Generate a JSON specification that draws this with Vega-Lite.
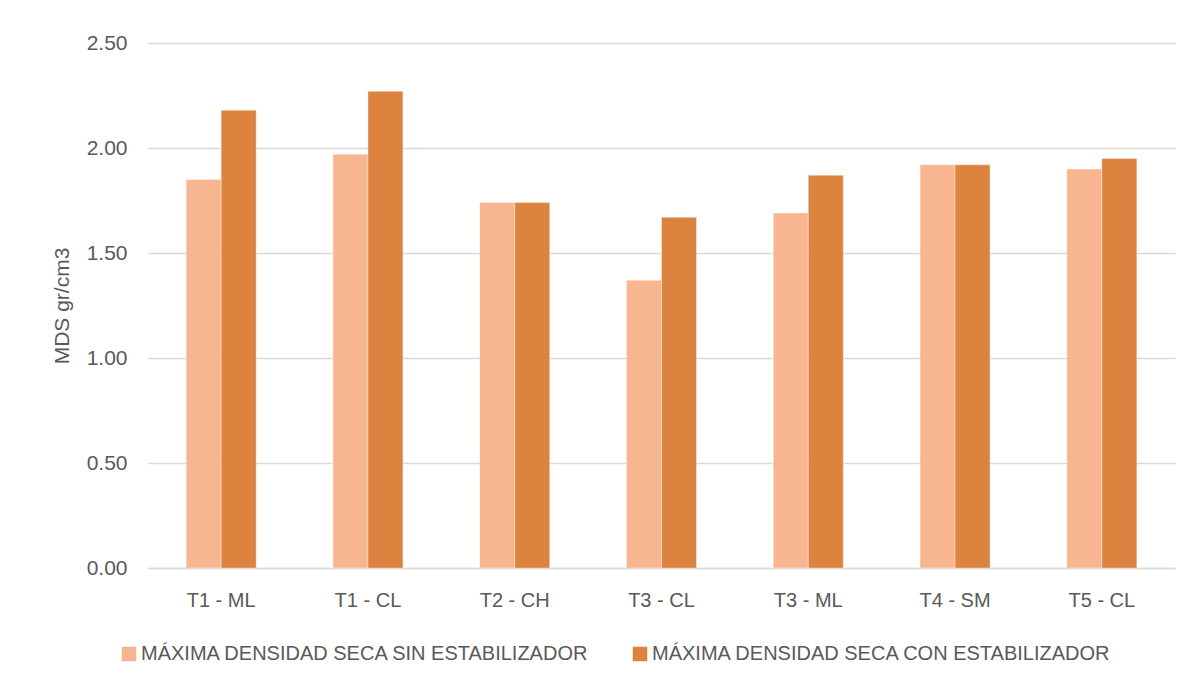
{
  "$schema": "https://vega.github.io/schema/vega-lite/v6.json",
  "autosize": {"type": "none"},
  "width": 1027,
  "height": 525,
  "padding": {"left": 148, "top": 43, "right": 17, "bottom": 115},
  "background": "white",
  "config": {
    "font": "Liberation Sans, sans-serif",
    "view": {"stroke": null}
  },
  "data": {
    "values": [
      {"muestra": "T1 - ML", "serie": "MÁXIMA DENSIDAD SECA SIN ESTABILIZADOR", "mds": 1.85},
      {"muestra": "T1 - ML", "serie": "MÁXIMA DENSIDAD SECA CON ESTABILIZADOR", "mds": 2.18},
      {"muestra": "T1 - CL", "serie": "MÁXIMA DENSIDAD SECA SIN ESTABILIZADOR", "mds": 1.97},
      {"muestra": "T1 - CL", "serie": "MÁXIMA DENSIDAD SECA CON ESTABILIZADOR", "mds": 2.27},
      {"muestra": "T2 - CH", "serie": "MÁXIMA DENSIDAD SECA SIN ESTABILIZADOR", "mds": 1.74},
      {"muestra": "T2 - CH", "serie": "MÁXIMA DENSIDAD SECA CON ESTABILIZADOR", "mds": 1.74},
      {"muestra": "T3 - CL", "serie": "MÁXIMA DENSIDAD SECA SIN ESTABILIZADOR", "mds": 1.37},
      {"muestra": "T3 - CL", "serie": "MÁXIMA DENSIDAD SECA CON ESTABILIZADOR", "mds": 1.67},
      {"muestra": "T3 - ML", "serie": "MÁXIMA DENSIDAD SECA SIN ESTABILIZADOR", "mds": 1.69},
      {"muestra": "T3 - ML", "serie": "MÁXIMA DENSIDAD SECA CON ESTABILIZADOR", "mds": 1.87},
      {"muestra": "T4 - SM", "serie": "MÁXIMA DENSIDAD SECA SIN ESTABILIZADOR", "mds": 1.92},
      {"muestra": "T4 - SM", "serie": "MÁXIMA DENSIDAD SECA CON ESTABILIZADOR", "mds": 1.92},
      {"muestra": "T5 - CL", "serie": "MÁXIMA DENSIDAD SECA SIN ESTABILIZADOR", "mds": 1.90},
      {"muestra": "T5 - CL", "serie": "MÁXIMA DENSIDAD SECA CON ESTABILIZADOR", "mds": 1.95}
    ]
  },
  "mark": {"type": "bar", "stroke": "white", "strokeWidth": 0.6, "strokeOpacity": 0.6},
  "encoding": {
    "x": {
      "field": "muestra",
      "type": "nominal",
      "sort": null,
      "scale": {"paddingInner": 0.523, "paddingOuter": 0.26},
      "axis": {
        "title": null,
        "labelAngle": 0,
        "labelFontSize": 20,
        "labelColor": "#595959",
        "labelPadding": 22,
        "ticks": false,
        "domainColor": "#d9d9d9",
        "domainWidth": 1.5
      }
    },
    "xOffset": {
      "field": "serie",
      "type": "nominal",
      "sort": ["MÁXIMA DENSIDAD SECA SIN ESTABILIZADOR", "MÁXIMA DENSIDAD SECA CON ESTABILIZADOR"]
    },
    "y": {
      "field": "mds",
      "type": "quantitative",
      "scale": {"domain": [0, 2.5], "nice": false},
      "axis": {
        "title": "MDS gr/cm3",
        "titleFontSize": 21,
        "titleFontWeight": "normal",
        "titleColor": "#595959",
        "titlePadding": 14,
        "values": [0, 0.5, 1, 1.5, 2, 2.5],
        "format": ".2f",
        "labelFontSize": 21,
        "labelColor": "#595959",
        "labelPadding": 21,
        "ticks": false,
        "domain": false,
        "gridColor": "#d9d9d9",
        "gridWidth": 1.5
      }
    },
    "color": {
      "field": "serie",
      "type": "nominal",
      "sort": ["MÁXIMA DENSIDAD SECA SIN ESTABILIZADOR", "MÁXIMA DENSIDAD SECA CON ESTABILIZADOR"],
      "scale": {"range": ["#F7B590", "#DC843F"]},
      "legend": {
        "title": null,
        "orient": "none",
        "legendX": -29,
        "legendY": 601,
        "direction": "horizontal",
        "symbolType": "square",
        "symbolSize": 210,
        "symbolStrokeWidth": 0,
        "labelFontSize": 20,
        "labelColor": "#595959",
        "labelLimit": 600,
        "labelOffset": 2,
        "columnPadding": 40
      }
    }
  }
}
